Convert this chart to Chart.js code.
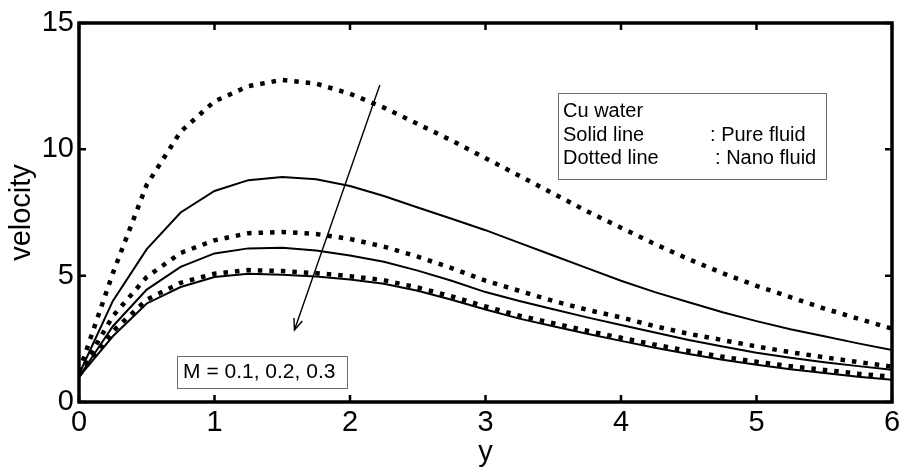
<!DOCTYPE html>
<html>
<head>
<meta charset="utf-8">
<script src="https://cdn.jsdelivr.net/npm/chart.js@4/dist/chart.umd.min.js"></script>
<style>
  html, body { margin: 0; padding: 0; background: #fff; }
  #wrap { width: 901px; height: 470px; position: relative; }
</style>
</head>
<body>
<div id="wrap"><canvas id="c" width="901" height="470"></canvas></div>
<script>
// ---- data ----
const yPositions = [0, 0.25, 0.5, 0.75, 1, 1.25, 1.5, 1.75, 2, 2.25, 2.5, 2.75, 3, 3.25, 3.5, 3.75, 4, 4.25, 4.5, 4.75, 5, 5.25, 5.5, 5.75, 6];
const pureM01 = [1.1, 4.0, 6.05, 7.5, 8.35, 8.78, 8.9, 8.82, 8.55, 8.15, 7.7, 7.25, 6.8, 6.3, 5.8, 5.3, 4.8, 4.35, 3.95, 3.55, 3.2, 2.88, 2.6, 2.32, 2.06];
const nanoM01 = [1.2, 5.1, 8.6, 10.7, 11.9, 12.5, 12.75, 12.6, 12.2, 11.65, 11.0, 10.35, 9.65, 8.95, 8.25, 7.55, 6.9, 6.25, 5.65, 5.1, 4.6, 4.15, 3.7, 3.3, 2.9];
const pureM02 = [1.0, 3.0, 4.45, 5.35, 5.88, 6.08, 6.1, 6.0, 5.8, 5.55, 5.2, 4.8, 4.35, 4.0, 3.67, 3.35, 3.05, 2.75, 2.45, 2.2, 1.95, 1.75, 1.57, 1.42, 1.28];
const nanoM02 = [1.1, 3.4, 4.95, 5.9, 6.4, 6.68, 6.73, 6.65, 6.45, 6.15, 5.75, 5.3, 4.8, 4.4, 4.0, 3.65, 3.35, 3.0, 2.7, 2.45, 2.2, 1.97, 1.77, 1.58, 1.4];
const pureM03 = [1.0, 2.6, 3.9, 4.55, 4.95, 5.08, 5.04, 4.97, 4.85, 4.68, 4.4, 4.05, 3.66, 3.3, 3.0, 2.7, 2.42, 2.15, 1.9, 1.67, 1.47, 1.3, 1.15, 1.0, 0.88];
const nanoM03 = [1.05, 2.8, 4.05, 4.72, 5.08, 5.22, 5.18, 5.1, 4.98, 4.82, 4.53, 4.18, 3.78, 3.42, 3.12, 2.82, 2.54, 2.27, 2.02, 1.79, 1.59, 1.42, 1.27, 1.12, 1.0];
const xTickValues = [0, 1, 2, 3, 4, 5, 6];
const yTickValues = [0, 5, 10, 15];
const xAxisTitle = 'y';
const yAxisTitle = 'velocity';
const legendLines = [['Cu water', ''], ['Solid line', ': Pure fluid'], ['Dotted line', ': Nano fluid']];
const paramLabel = 'M = 0.1, 0.2, 0.3';

const FONT = '"Liberation Sans", Arial, Helvetica, sans-serif';

function pts(arr) { return arr.map((v, i) => ({ x: yPositions[i], y: v })); }
function solid(label, arr) {
  return { label, data: pts(arr), borderColor: '#000', borderWidth: 2, pointRadius: 0, tension: 0, fill: false };
}
function dotted(label, arr) {
  return { label, data: pts(arr), borderColor: '#000', borderWidth: 4.5, borderDash: [4.5, 7], borderCapStyle: 'butt', pointRadius: 0, tension: 0, fill: false };
}

const decor = {
  id: 'decor',
  afterDatasetsDraw(chart) {
    const { ctx, chartArea: a, scales: { x, y } } = chart;
    ctx.save();
    // inward ticks
    ctx.strokeStyle = '#000';
    ctx.lineWidth = 2.5;
    const tl = 7;
    ctx.beginPath();
    xTickValues.forEach(v => {
      const px = x.getPixelForValue(v);
      ctx.moveTo(px, a.bottom); ctx.lineTo(px, a.bottom - tl);
      ctx.moveTo(px, a.top); ctx.lineTo(px, a.top + tl);
    });
    yTickValues.forEach(v => {
      const py = y.getPixelForValue(v);
      ctx.moveTo(a.left, py); ctx.lineTo(a.left + tl, py);
      ctx.moveTo(a.right, py); ctx.lineTo(a.right - tl, py);
    });
    ctx.stroke();
    // frame
    ctx.lineWidth = 3.5;
    ctx.strokeRect(a.left, a.top, a.right - a.left, a.bottom - a.top);

    // arrow
    const x0 = x.getPixelForValue(2.22), y0 = y.getPixelForValue(12.55);
    const x1 = x.getPixelForValue(1.59), y1 = y.getPixelForValue(2.85);
    ctx.lineWidth = 1.4;
    ctx.beginPath(); ctx.moveTo(x0, y0); ctx.lineTo(x1, y1); ctx.stroke();
    const ang = Math.atan2(y1 - y0, x1 - x0), hl = 12, ha = 0.38;
    ctx.beginPath();
    ctx.moveTo(x1 - hl * Math.cos(ang - ha), y1 - hl * Math.sin(ang - ha));
    ctx.lineTo(x1, y1);
    ctx.lineTo(x1 - hl * Math.cos(ang + ha), y1 - hl * Math.sin(ang + ha));
    ctx.stroke();

    // legend text box
    const bx0 = x.getPixelForValue(3.535), by0 = y.getPixelForValue(12.23);
    const bx1 = x.getPixelForValue(5.51), by1 = y.getPixelForValue(8.82);
    ctx.fillStyle = '#fff';
    ctx.fillRect(bx0, by0, bx1 - bx0, by1 - by0);
    ctx.lineWidth = 1;
    ctx.strokeStyle = '#6e6e6e';
    ctx.strokeRect(Math.round(bx0) + 0.5, Math.round(by0) + 0.5, Math.round(bx1 - bx0), Math.round(by1 - by0));
    ctx.fillStyle = '#000';
    ctx.font = '20px ' + FONT;
    ctx.textBaseline = 'alphabetic';
    ctx.textAlign = 'left';
    const baseV = [11.29, 10.33, 9.41];
    const colX = [4.657, 4.694];
    legendLines.forEach((ln, i) => {
      const py = y.getPixelForValue(baseV[i]);
      ctx.fillText(ln[0], x.getPixelForValue(3.572), py);
      if (ln[1]) ctx.fillText(ln[1], x.getPixelForValue(colX[i - 1]), py);
    });

    // parameter box
    const mx0 = x.getPixelForValue(0.723), my0 = y.getPixelForValue(1.82);
    const mx1 = x.getPixelForValue(1.978), my1 = y.getPixelForValue(0.554);
    ctx.fillStyle = '#fff';
    ctx.fillRect(mx0, my0, mx1 - mx0, my1 - my0);
    ctx.strokeStyle = '#6e6e6e';
    ctx.strokeRect(Math.round(mx0) + 0.5, Math.round(my0) + 0.5, Math.round(mx1 - mx0), Math.round(my1 - my0));
    ctx.fillStyle = '#000';
    ctx.font = '21px ' + FONT;
    ctx.fillText(paramLabel, x.getPixelForValue(0.768), y.getPixelForValue(0.94));
    ctx.restore();
  }
};

new Chart(document.getElementById('c'), {
  type: 'line',
  data: {
    datasets: [
      dotted('Nano fluid, M = 0.1', nanoM01),
      solid('Pure fluid, M = 0.1', pureM01),
      dotted('Nano fluid, M = 0.2', nanoM02),
      solid('Pure fluid, M = 0.2', pureM02),
      dotted('Nano fluid, M = 0.3', nanoM03),
      solid('Pure fluid, M = 0.3', pureM03)
    ]
  },
  options: {
    responsive: false,
    animation: false,
    devicePixelRatio: 1,
    layout: { padding: { left: 0, top: 23, right: 9, bottom: 0 } },
    plugins: { legend: { display: false }, tooltip: { enabled: false } },
    scales: {
      x: {
        type: 'linear', min: 0, max: 6,
        afterFit(s) { s.height = 68; s.paddingLeft = 0; s.paddingRight = 0; },
        afterBuildTicks(s) { s.ticks = xTickValues.map(v => ({ value: v })); },
        grid: { display: false, drawTicks: false },
        border: { display: false },
        ticks: { color: '#000', font: { family: FONT, size: 29 }, padding: 4, maxRotation: 0, autoSkip: false },
        title: { display: true, text: xAxisTitle, color: '#000', font: { family: FONT, size: 29 }, padding: { top: 0, bottom: 0 } }
      },
      y: {
        type: 'linear', min: 0, max: 15,
        afterFit(s) { s.width = 79; s.paddingTop = 0; s.paddingBottom = 0; },
        afterBuildTicks(s) { s.ticks = yTickValues.map(v => ({ value: v })); },
        grid: { display: false, drawTicks: false },
        border: { display: false },
        ticks: { color: '#000', font: { family: FONT, size: 29 }, padding: 5, autoSkip: false },
        title: { display: true, text: yAxisTitle, color: '#000', font: { family: FONT, size: 29 }, padding: { top: 5, bottom: 0 } }
      }
    }
  },
  plugins: [decor]
});
</script>
</body>
</html>
